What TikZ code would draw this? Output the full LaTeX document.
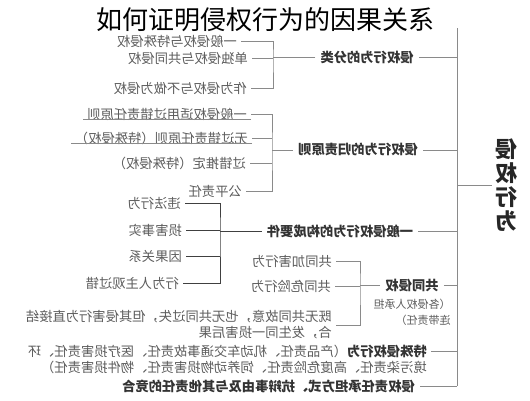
\documentclass[tikz,border=0pt]{standalone}
\usepackage{fontspec}
\setmainfont{Noto Sans CJK SC}
\usetikzlibrary{positioning}
\definecolor{linegray}{HTML}{8A8A8A}
\definecolor{textgray}{HTML}{5C5C5C}
\tikzset{
    flipped/.style={xscale=-1},
    link/.style={draw=linegray, line width=0.8pt},
    dark link/.style={draw=black!75, line width=1pt}
}

\begin{document}
\begin{tikzpicture}[x=1pt, y=-1pt,
    item node/.style={flipped, anchor=west, inner sep=4pt, text=textgray, font=\fontsize{13.3}{16}\selectfont},
    main node/.style={flipped, inner sep=5pt, text=black!80, font=\fontsize{13.3}{16}\selectfont\bfseries},
    note node/.style={flipped, inner sep=2pt, align=left, text=textgray, font=\fontsize{11}{16}\selectfont},
    root node/.style={flipped, inner sep=3pt, align=center, text=black!85, font=\fontsize{22}{24}\selectfont\bfseries}]
\useasboundingbox (0,0) rectangle (530,400);

\node[font=\fontsize{26}{30}\selectfont] (title) at (265,20) {如何证明侵权行为的因果关系};

\node[root node] (root) at (506,185) {侵\\权\\行\\为};
\coordinate (trunk top) at (457,28);
\coordinate (trunk end) at (457,386);
\draw[link] (trunk top) -- (trunk end);
\draw[link] (root) -- (root -| trunk top);

% kinds
\node[main node] (kind) at (367,57) {侵权行为的分类};
\node[item node] (kind1) at (241,41) {一般侵权与特殊侵权};
\node[item node] (kind2) at (252,58) {单独侵权与共同侵权};
\node[item node] (kind3) at (251,88) {作为侵权与不做为侵权};
\coordinate (kind br) at (273,57);
\draw[link] (kind.west) -- (kind.west -| trunk top);
\draw[link] (kind.east) -- (kind br);
\draw[link] (kind1.west) -| (kind br) |- (kind3.west);
\draw[link] (kind2.west) -- (kind2.west -| kind br);

% liability rules
\node[main node] (rule) at (358,150) {侵权行为的归责原则};
\node[item node] (rule1) at (251,114) {一般侵权适用过错责任原则};
\node[item node] (rule2) at (252,138) {无过错责任原则（特殊侵权）};
\node[item node] (rule3) at (250,163) {过错推定（特殊侵权）};
\node[item node] (rule4) at (246,191) {公平责任};
\coordinate (rule br) at (272,150);
\draw[link] (rule.west) -- (rule.west -| trunk top);
\draw[link] (rule.east) -- (rule br);
\draw[link] (rule1.west) -| (rule br) |- (rule4.west);
\draw[link] (rule2.west) -- (rule2.west -| rule br);
\draw[link] (rule3.west) -- (rule3.west -| rule br);
\draw[link, line width=0.5pt] (rule1.base west) -- (rule1.base east);
\draw[link, line width=0.5pt] (rule2.base west) -- (rule2.base east);

% elements
\node[main node] (form) at (340,231) {一般侵权行为的构成要件};
\node[item node] (form1) at (185,203) {违法行为};
\node[item node] (form2) at (186,230) {损害事实};
\node[item node] (form3) at (186,256) {因果关系};
\node[item node] (form4) at (183,283) {行为人主观过错};
\coordinate (form br) at (220,231);
\draw[link] (form.west) -- (form.west -| trunk top);
\draw[dark link] (form.east) -- (form br);
\draw[dark link] (form1.west) -| (form br) |- (form4.west);
\draw[dark link] (form2.west) -- (form2.west -| form br);
\draw[dark link] (form3.west) -- (form3.west -| form br);

% joint torts
\node[main node] (joint) at (412,285) {共同侵权};
\node[note node, below=0pt of joint] (joint note) {（各侵权人承担\\连带责任）};
\node[item node] (joint1) at (336,261) {共同加害行为};
\node[item node] (joint2) at (335,286) {共同危险行为};
\node[item node, align=left] (joint3) at (336,325) {既无共同故意，也无共同过失，但其侵害行为直接结\\合，发生同一损害后果};
\coordinate (joint br) at (360,285);
\draw[link] (joint.west) -- (joint.west -| trunk top);
\draw[link] (joint.east) -- (joint br);
\draw[link] (joint1.west) -| (joint br) |- (joint3.west);
\draw[link] (joint2.west) -- (joint2.west -| joint br);

% special torts
\node[item node, anchor=north west, align=left] (special) at (431,341) {{\bfseries\color{black!80}特殊侵权行为}（产品责任、机动车交通事故责任、医疗损害责任、环\\境污染责任、高度危险责任、饲养动物损害责任、物件损害责任）};
\coordinate (special in) at ([yshift=-10pt]special.north west);
\draw[link] (special in) -- (special in -| trunk top);

\node[main node, anchor=west] (mix) at (420,386) {侵权责任承担方式、抗辩事由及与其他责任的竞合};
\draw[link] (mix.west) -- (trunk end);
\end{tikzpicture}
\end{document}
